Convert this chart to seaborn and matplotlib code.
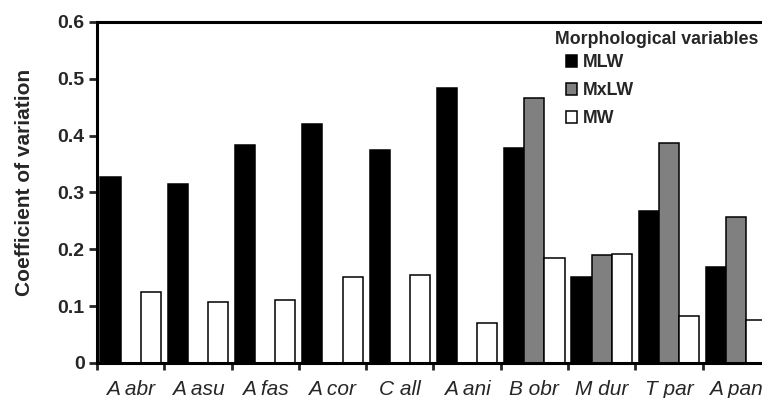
import pandas as pd
import matplotlib
matplotlib.use("Agg")
import matplotlib.pyplot as plt
import seaborn as sns
from matplotlib.ticker import FixedLocator, FuncFormatter

# species (x categories) and coefficient of variation per morphological variable
species = ['A abr', 'A asu', 'A fas', 'A cor', 'C all', 'A ani', 'B obr', 'M dur', 'T par', 'A pan']
variables = ['MLW', 'MxLW', 'MW']
mlw = [0.328, 0.315, 0.383, 0.421, 0.374, 0.483, 0.379, 0.152, 0.268, 0.168]
mxlw = [None, None, None, None, None, None, 0.466, 0.190, 0.387, 0.256]
mw = [0.125, 0.107, 0.111, 0.152, 0.154, 0.070, 0.185, 0.192, 0.082, 0.075]

rows = []
for i, sp in enumerate(species):
    for var, vals in zip(variables, [mlw, mxlw, mw]):
        if vals[i] is not None:
            rows.append({'Species': sp, 'Variable': var, 'CV': vals[i]})
df = pd.DataFrame(rows)

sns.set_style('white')
plt.rcParams['font.family'] = ['Liberation Sans', 'DejaVu Sans']

W, H = 762, 398
fig = plt.figure(figsize=(W / 100, H / 100), dpi=100)
ax = fig.add_axes([0.1273, 0.088, 0.883, 0.857])

sns.barplot(data=df, x='Species', y='CV', hue='Variable', order=species,
            hue_order=variables, palette=['black', '#808080', 'white'],
            edgecolor='black', linewidth=1.1, width=0.9, ax=ax)

ax.set_xlim(-0.5, len(species) - 0.5)
ax.set_ylim(0, 0.6)
ax.set_yticks([0, 0.1, 0.2, 0.3, 0.4, 0.5, 0.6])
ax.yaxis.set_major_formatter(FuncFormatter(lambda v, p: '0' if v == 0 else f'{v:.1f}'))
ax.set_xlabel('')
ax.set_ylabel('Coefficient of variation', fontsize=15, fontweight='bold')
ax.yaxis.set_label_coords(-0.094, 0.53)

# category labels centred, tick marks at group boundaries
ax.set_xticks(range(len(species)))
ax.set_xticklabels(species, fontsize=15, style='italic')
ax.tick_params(axis='x', which='major', length=0, pad=12)
ax.xaxis.set_minor_locator(FixedLocator([i - 0.5 for i in range(len(species) + 1)]))
ax.tick_params(axis='x', which='minor', direction='out', length=5, width=2, bottom=True)
ax.tick_params(axis='y', direction='out', length=6, width=2, left=True, pad=3)
for lab in ax.get_yticklabels():
    lab.set_fontsize(14)
    lab.set_fontweight('bold')

for side in ['left', 'bottom', 'top']:
    ax.spines[side].set_color('black')
    ax.spines[side].set_linewidth(2.2)
ax.spines['right'].set_visible(False)

leg = ax.legend(loc='upper left', bbox_to_anchor=(566 / W, 1 - 54 / H),
                bbox_transform=fig.transFigure, frameon=False,
                handlelength=0.62, handleheight=0.67, handletextpad=0.34,
                labelspacing=0.62, borderpad=0, borderaxespad=0,
                prop={'weight': 'bold', 'size': 12.8})
fig.text(555 / W, 1 - 39 / H, 'Morphological variables', fontsize=12.8,
         fontweight='bold', ha='left', va='center')

fig.savefig('out.png', dpi=100)
